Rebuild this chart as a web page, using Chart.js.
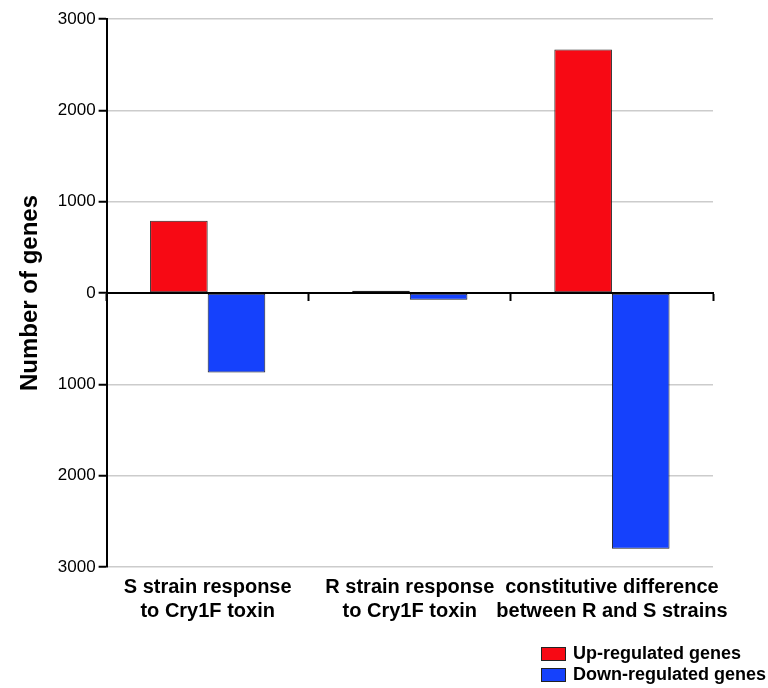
<!DOCTYPE html>
<html>
<head>
<meta charset="utf-8">
<script src="https://cdn.jsdelivr.net/npm/chart.js@4"></script>
<style>
  html, body { margin: 0; padding: 0; background: #fff; }
  #wrap { position: relative; width: 768px; height: 688px; }
  #legend { position: absolute; left: 541px; top: 643px; font: bold 18px "Liberation Sans", Arial, sans-serif; color: #000; }
  #legend div { display: flex; align-items: center; height: 21px; }
  #legend span.box { display: inline-block; width: 25px; height: 14px; border: 1px solid #222; margin-right: 7px; box-sizing: border-box; }
</style>
</head>
<body>
<div id="wrap">
  <canvas id="chart" width="768" height="688"></canvas>
  <div id="legend"></div>
</div>
<script>
const categories = [
  ["S strain response", "to Cry1F toxin"],
  ["R strain response", "to Cry1F toxin"],
  ["constitutive difference", "between R and S strains"]
];
const upRegulated = [790, 25, 2665];
const downRegulated = [-870, -75, -2800];
const seriesNames = ["Up-regulated genes", "Down-regulated genes"];
const seriesColors = ["#f70914", "#1541fc"];

const font = "'Liberation Sans', Arial, sans-serif";

const chart = new Chart(document.getElementById("chart"), {
  type: "bar",
  data: {
    labels: categories,
    datasets: [
      {
        label: seriesNames[0],
        data: upRegulated,
        backgroundColor: seriesColors[0],
        borderColor: "#222",
        borderWidth: 1,
        borderSkipped: false,
        categoryPercentage: 0.57,
        barPercentage: 1
      },
      {
        label: seriesNames[1],
        data: downRegulated,
        backgroundColor: seriesColors[1],
        borderColor: "#222",
        borderWidth: 1,
        borderSkipped: false,
        categoryPercentage: 0.57,
        barPercentage: 1
      }
    ]
  },
  options: {
    responsive: false,
    animation: false,
    layout: { padding: { top: 19, right: 55, bottom: 65, left: 14 } },
    plugins: {
      legend: { display: false },
      tooltip: { enabled: false }
    },
    scales: {
      x: {
        position: "bottom",
        grid: { display: false },
        border: { display: false },
        ticks: {
          color: "#000",
          font: { family: font, size: 20, weight: "bold" },
          padding: 0,
          maxRotation: 0,
          autoSkip: false
        }
      },
      x2: {
        type: "category",
        labels: categories,
        position: { y: 0 },
        offset: true,
        grid: {
          drawOnChartArea: false,
          drawTicks: true,
          tickLength: 7,
          tickColor: "#000",
          tickWidth: 2,
          offset: true
        },
        border: { display: true, color: "#000", width: 2 },
        ticks: { display: false }
      },
      y: {
        min: -3000,
        max: 3000,
        ticks: {
          stepSize: 1000,
          color: "#000",
          font: { family: font, size: 17 },
          padding: 3,
          callback: (v) => Math.abs(v)
        },
        grid: {
          color: "#cccccc",
          lineWidth: 1.5,
          tickColor: "#000",
          tickLength: 8,
          tickWidth: 2
        },
        border: { color: "#000", width: 2 },
        title: {
          display: true,
          text: "Number of genes",
          color: "#000",
          font: { family: font, size: 24, weight: "bold" },
          padding: { top: 2, bottom: 10 }
        }
      }
    }
  }
});

const legendEl = document.getElementById("legend");
chart.data.datasets.forEach((ds) => {
  const row = document.createElement("div");
  const box = document.createElement("span");
  box.className = "box";
  box.style.background = ds.backgroundColor;
  row.appendChild(box);
  row.appendChild(document.createTextNode(ds.label));
  legendEl.appendChild(row);
});
</script>
</body>
</html>
